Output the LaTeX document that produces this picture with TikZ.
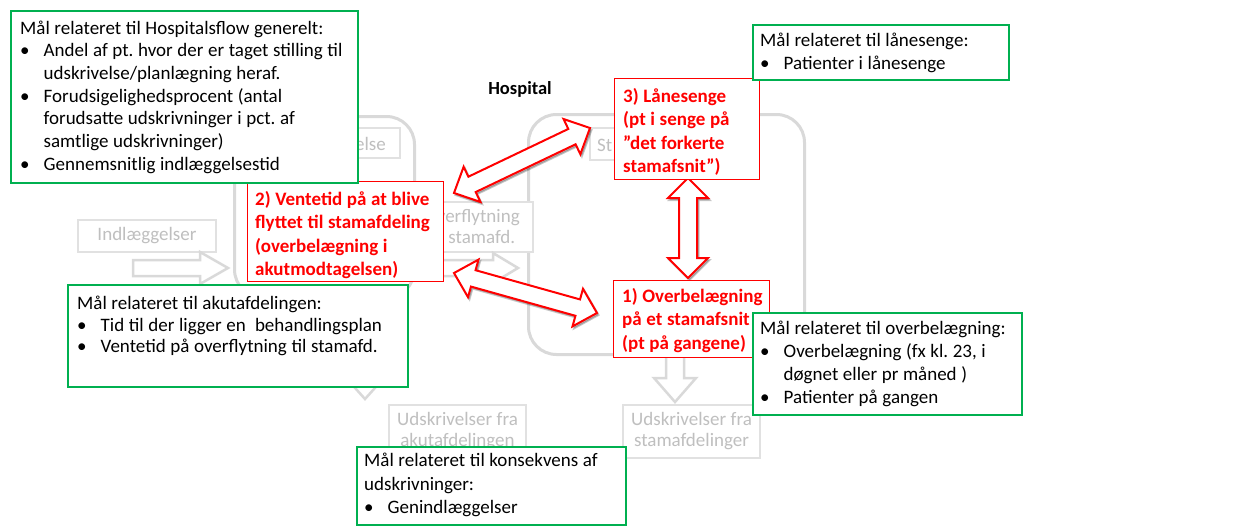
\documentclass[tikz,border=0pt]{standalone}
\usepackage{fontspec}
\setmainfont{Carlito}
\usetikzlibrary{calc}
\setlength\parindent{0pt}
\frenchspacing
\definecolor{ggreen}{HTML}{00B050}
\definecolor{lgray}{HTML}{D9D9D9}
\definecolor{tgray}{HTML}{BFBFBF}
\definecolor{rred}{HTML}{FF0000}
\newcommand\fs[2]{\fontsize{#1}{#2}\selectfont}
\newcommand\tsp{\spaceskip=4.6pt plus 1pt minus .5pt\relax}
\newlength\bulind
\setlength\bulind{23.5pt}
\newcommand\bul[1]{\par\noindent\hangindent=\bulind\hangafter=1\hbox to\bulind{•\hfil}#1}
% double block arrow: style, A, B, shaft half width, head half width, head length
\newcommand\dblarrow[6]{%
 \draw[#1] (#2) -- ($(#2)!#6!(#3)!#5!90:(#3)$) -- ($(#2)!#6!(#3)!#4!90:(#3)$)
   -- ($(#3)!#6!(#2)!#4!270:(#2)$) -- ($(#3)!#6!(#2)!#5!270:(#2)$) -- (#3)
   -- ($(#3)!#6!(#2)!#5!90:(#2)$) -- ($(#3)!#6!(#2)!#4!90:(#2)$)
   -- ($(#2)!#6!(#3)!#4!270:(#3)$) -- ($(#2)!#6!(#3)!#5!270:(#3)$) -- cycle;}
% single block arrow: style, tail, tip, shaft half width, head half width, head length
\newcommand\sglarrow[6]{%
 \draw[#1] ($(#2)!#4!90:(#3)$) -- ($(#3)!#6!(#2)!#4!270:(#2)$) -- ($(#3)!#6!(#2)!#5!270:(#2)$)
   -- (#3) -- ($(#3)!#6!(#2)!#5!90:(#2)$) -- ($(#3)!#6!(#2)!#4!90:(#2)$)
   -- ($(#2)!#4!270:(#3)$) -- cycle;}
\begin{document}
\begin{tikzpicture}[x=1pt,y=-1pt,
 gbox/.style={draw=ggreen, line width=2pt, fill=white, anchor=north west, inner sep=0pt},
 rbox/.style={draw=rred, line width=1.2pt, fill=white, anchor=north west, inner sep=0pt},
 txt/.style={anchor=north west, inner sep=0pt, text width=#1},
 gtxt/.style={txt=#1, font=\fs{19}{22.7}},
 rtxt/.style={txt=230pt, text=rred, font=\bfseries\fs{19}{23.3}},
 grayround/.style={draw=lgray, line width=3pt, rounded corners=28pt, anchor=north west, inner sep=0pt},
 graybox/.style={draw=lgray!80, line width=1.2pt, fill=white, text=tgray, inner sep=0pt, align=center, font=\fs{19}{21}},
 graytext/.style={text=tgray, inner sep=0pt, font=\fs{19}{21}},
 garrow/.style={draw=lgray, line width=2.5pt, fill=white, line join=miter},
 rarrow/.style={draw=rred, line width=2pt, fill=white, line join=miter},
 rshadow/.style={fill=black, draw=black, line width=2pt, opacity=0.22, transform canvas={shift={(1.5pt,-2pt)}}},
]
\useasboundingbox (0,0) rectangle (1242,527);
\fill[white] (0,0) rectangle (1242,527);

% gray background structure
\node[grayround, minimum width=180, minimum height=181] (akut) at (233,115) {};
\node[grayround, minimum width=276, minimum height=240] (stam) at (527,113) {};
\node[graybox, minimum width=124, minimum height=30] (modt) at (338,143) {};
\node[graytext, anchor=east] (modtt) at (386,144) {else};
\node[graybox, minimum width=131, minimum height=32] (stbox) at (655.5,144) {};
\node[graytext, anchor=west] (stboxt) at (597,145) {St};
\node[graybox, minimum width=138, minimum height=32] (indl) at (147,236) {Indlæggelser};
\node[graybox, minimum width=122, minimum height=50] (overfl) at (472,227) {Overflytning\\\tsp til stamafd.};
\node[graybox, minimum width=137, minimum height=53] (udsa) at (457.5,431.5) {\tsp Udskrivelser fra\\akutafdelingen};
\node[graybox, minimum width=137, minimum height=53] (udss) at (691.5,431.5) {\tsp Udskrivelser fra\\stamafdelinger};

\coordinate (ia1) at (133,268); \coordinate (ia2) at (228,268);
\coordinate (oa1) at (420,268); \coordinate (oa2) at (518,268);
\coordinate (da1) at (365,300); \coordinate (da2) at (365,399);
\coordinate (sa1) at (675,340); \coordinate (sa2) at (675,402);
\sglarrow{garrow}{ia1}{ia2}{8pt}{16pt}{28pt}
\sglarrow{garrow}{oa1}{oa2}{8pt}{15pt}{25pt}
\sglarrow{garrow}{da1}{da2}{9pt}{18pt}{20pt}
\sglarrow{garrow}{sa1}{sa2}{9pt}{21pt}{24pt}

\node[font=\bfseries\fs{18.5}{20}] (hosp) at (520,89) {Hospital};

% red double arrows
\coordinate (r23a) at (454,193); \coordinate (r23b) at (590,128);
\coordinate (r21a) at (454,273); \coordinate (r21b) at (597,313);
\coordinate (r31a) at (688,178); \coordinate (r31b) at (688,278);
\dblarrow{rshadow}{r23a}{r23b}{8.5pt}{19.5pt}{20pt}
\dblarrow{rshadow}{r21a}{r21b}{8.5pt}{19.5pt}{20pt}
\dblarrow{rshadow}{r31a}{r31b}{9pt}{20pt}{20pt}
\dblarrow{rarrow}{r23a}{r23b}{8.5pt}{19.5pt}{20pt}
\dblarrow{rarrow}{r21a}{r21b}{8.5pt}{19.5pt}{20pt}
\dblarrow{rarrow}{r31a}{r31b}{9pt}{20pt}{20pt}

% red boxes
\node[rbox, minimum width=196, minimum height=100] (n2) at (247,181) {};
\node[rtxt] (n2t) at (255,189) {\tsp\strut 2) Ventetid på at blive\newline flyttet til stamafdeling\newline (overbelægning i\newline akutmodtagelsen)};
\node[rbox, minimum width=145, minimum height=101] (n3) at (614,78) {};
\node[rtxt] (n3t) at (623,86) {\tsp\strut 3) Lånesenge\newline (pt i senge på\newline ”det forkerte\newline stamafsnit”)};
\node[rbox, minimum width=156, minimum height=77] (n1) at (613,280) {};
\node[rtxt, font=\bfseries\fs{19}{23.5}] (n1t) at (622,285.5) {\tsp\strut 1) Overbelægning\newline på et stamafsnit\newline (pt på gangene)};

% green boxes
\node[gbox, minimum width=347, minimum height=172] (g1) at (10,10) {};
\node[gtxt=400pt] (g1t) at (20,18) {\tsp\strut Mål relateret til Hospitalsflow generelt:%
\bul{Andel af pt. hvor der er taget stilling til\newline udskrivelse/planlægning heraf.}%
\bul{Forudsigelighedsprocent (antal\newline forudsatte udskrivninger i pct. af\newline samtlige udskrivninger)}%
\bul{Gennemsnitlig indlæggelsestid}};

\node[gbox, minimum width=256, minimum height=55] (g2) at (752,24) {};
\node[gtxt=300pt, font=\fs{19}{23}] (g2t) at (760,30.5) {\tsp\strut Mål relateret til lånesenge:%
\bul{Patienter i lånesenge}};

\node[gbox, minimum width=269, minimum height=102] (g3) at (752,312) {};
\node[gtxt=300pt, font=\fs{19}{23}] (g3t) at (760,318.5) {\tsp\strut Mål relateret til overbelægning:%
\bul{Overbelægning (fx kl. 23, i\newline døgnet eller pr måned )}%
\bul{Patienter på gangen}};

\node[gbox, minimum width=340, minimum height=102] (g4) at (67,284) {};
\node[gtxt=380pt, font=\fs{19}{21.7}] (g4t) at (77,294) {\tsp\strut Mål relateret til akutafdelingen:%
\bul{Tid til der ligger en\ \ behandlingsplan}%
\bul{Ventetid på overflytning til stamafd.}};

\node[gbox, minimum width=269, minimum height=78] (g5) at (356,446) {};
\node[gtxt=300pt, font=\fs{19}{23.5}] (g5t) at (364,450.2) {\tsp\strut Mål relateret til konsekvens af\newline udskrivninger:%
\bul{Genindlæggelser}};
\end{tikzpicture}
\end{document}
